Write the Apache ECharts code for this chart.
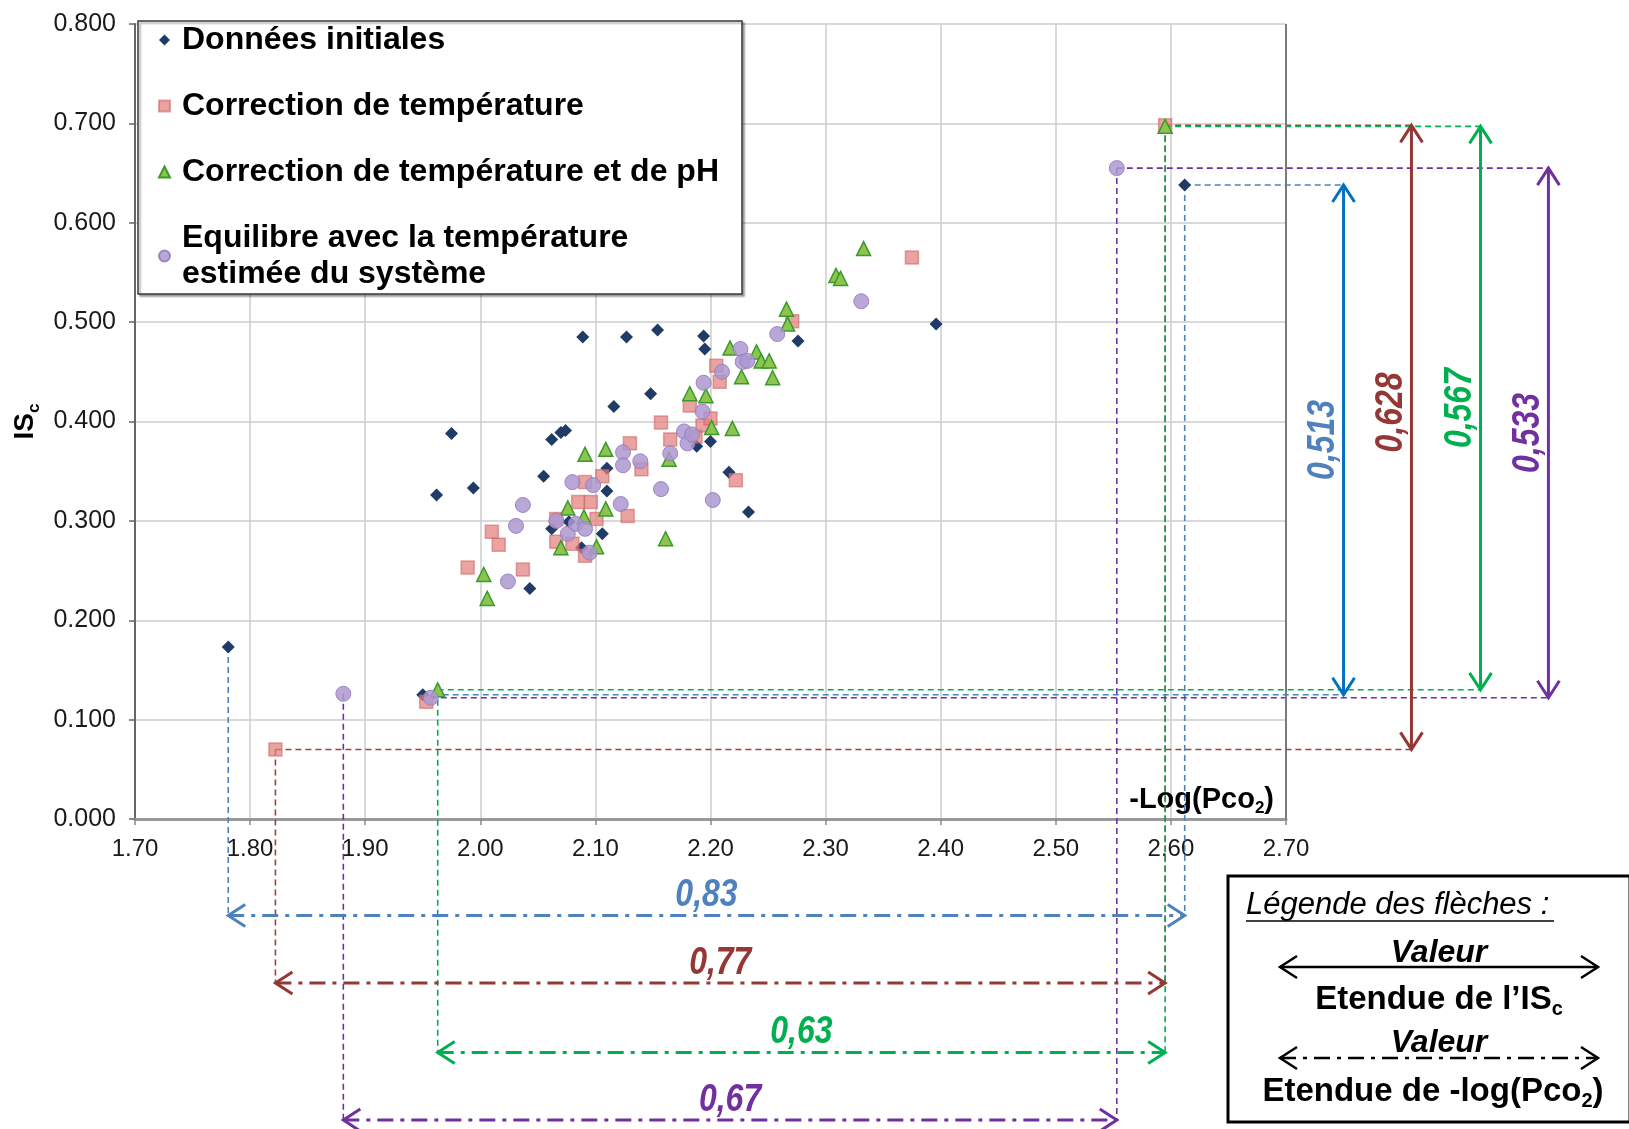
<!DOCTYPE html>
<html><head><meta charset="utf-8">
<script src="https://cdn.jsdelivr.net/npm/echarts@6/dist/echarts.min.js"></script>
<style>html,body{margin:0;padding:0;background:#fff}#c{width:1629px;height:1129px}</style>
</head><body><div id="c"></div>
<script>
// ---------- data (x = -Log(Pco2), y = ISc) ----------
const seriesNames = ['Données initiales', 'Correction de température', 'Correction de température et de pH', 'Equilibre avec la température estimée du système'];

const initiales = [
  [1.781,0.173],[1.950,0.125],[1.962,0.326],[1.975,0.388],[1.994,0.333],[2.043,0.232],
  [2.055,0.345],[2.062,0.382],[2.070,0.389],[2.074,0.391],[2.062,0.292],[2.077,0.299],
  [2.088,0.273],[2.089,0.485],[2.106,0.287],[2.110,0.353],[2.110,0.330],[2.116,0.415],
  [2.127,0.485],[2.148,0.428],[2.154,0.492],[2.188,0.375],[2.194,0.486],[2.195,0.473],
  [2.200,0.380],[2.216,0.349],[2.233,0.309],[2.276,0.481],[2.396,0.498],[2.612,0.638]
];
const corrTemp = [
  [1.822,0.070],[1.953,0.118],[1.989,0.253],[2.010,0.289],[2.016,0.276],[2.037,0.251],
  [2.066,0.302],[2.066,0.279],[2.080,0.277],[2.085,0.319],[2.091,0.339],[2.091,0.265],
  [2.096,0.319],[2.101,0.302],[2.106,0.345],[2.128,0.305],[2.130,0.378],[2.140,0.352],
  [2.157,0.399],[2.165,0.382],[2.182,0.416],[2.187,0.385],[2.193,0.396],[2.200,0.403],
  [2.205,0.456],[2.208,0.440],[2.222,0.341],[2.271,0.501],[2.375,0.565],[2.595,0.698]
];
const corrTempPh = [
  [1.963,0.130],[2.003,0.246],[2.006,0.222],[2.070,0.273],[2.076,0.313],[2.090,0.304],
  [2.091,0.367],[2.101,0.274],[2.109,0.372],[2.109,0.312],[2.161,0.282],[2.164,0.362],
  [2.182,0.428],[2.196,0.426],[2.201,0.394],[2.217,0.474],[2.219,0.393],[2.227,0.445],
  [2.240,0.470],[2.244,0.461],[2.251,0.461],[2.254,0.444],[2.266,0.513],[2.267,0.498],
  [2.309,0.547],[2.313,0.544],[2.333,0.574],[2.595,0.697]
];
const equilibre = [
  [1.881,0.126],[1.957,0.122],[2.024,0.239],[2.031,0.295],[2.037,0.316],[2.066,0.300],
  [2.076,0.287],[2.080,0.339],[2.083,0.297],[2.091,0.292],[2.095,0.268],[2.098,0.336],
  [2.122,0.317],[2.124,0.369],[2.124,0.356],[2.139,0.360],[2.157,0.332],[2.165,0.368],
  [2.177,0.390],[2.180,0.378],[2.184,0.387],[2.193,0.410],[2.194,0.439],[2.202,0.321],
  [2.210,0.450],[2.226,0.473],[2.228,0.460],[2.232,0.461],[2.258,0.488],[2.331,0.521],
  [2.553,0.655]
];

// range annotations (labels as printed in the figure)
const isRangeLabels  = ['0,513', '0,628', '0,567', '0,533'];
const logRangeLabels = ['0,83', '0,77', '0,63', '0,67'];
// positions of the range arrows, in axis units
const arrowColumnsX = [2.750, 2.809, 2.869, 2.928];
const arrowRowsY    = [-0.097, -0.165, -0.235, -0.303];

const FONT = 'Liberation Sans, Arial, sans-serif';
const arrowColors = ['#0070C0', '#953735', '#00B050', '#7030A0'];
const dashColors  = ['#4F81BD', '#A0403C', '#00B050', '#7030A0'];
const labelColors = ['#4F81BD', '#953735', '#00B050', '#7030A0'];
const hArrowColors = ['#4F81BD', '#953735', '#00B050', '#7030A0'];

const chart = echarts.init(document.getElementById('c'));

const subRich = (size) => ({
  a: {fontFamily: FONT, fontWeight: 'bold', fontSize: size, color: '#000', lineHeight: size + 6, verticalAlign: 'middle'},
  s: {fontFamily: FONT, fontWeight: 'bold', fontSize: Math.round(size * 0.6), color: '#000', lineHeight: Math.round(size * 0.6), verticalAlign: 'bottom'}
});

chart.setOption({
  animation: false,
  backgroundColor: '#fff',
  grid: {left: 135, right: 343, top: 24, bottom: 310},
  legend: {
    orient: 'vertical', left: 138, top: 21,
    padding: [1, 23, 2, 20],
    itemGap: 30, itemWidth: 11, itemHeight: 11,
    selectedMode: false,
    backgroundColor: '#fff', borderColor: '#3a3a3a', borderWidth: 1.5,
    shadowColor: 'rgba(0,0,0,0.35)', shadowBlur: 2, shadowOffsetX: 2, shadowOffsetY: 2,
    textStyle: {fontFamily: FONT, fontWeight: 'bold', fontSize: 32, color: '#000', lineHeight: 36, padding: [0, 0, 0, 7]},
    formatter: (n) => n === seriesNames[3] ? 'Equilibre avec la température\nestimée du système' : n,
    data: seriesNames
  },
  xAxis: {
    type: 'value', min: 1.7, max: 2.7, interval: 0.1,
    name: '{a|-Log(Pco}{s|2}{a|)}', nameLocation: 'end', nameGap: -12,
    nameTextStyle: {align: 'right', verticalAlign: 'bottom', padding: [0, 0, 2, 0], rich: subRich(29)},
    axisLine: {show: true, onZero: false, lineStyle: {color: '#999', width: 3}},
    axisTick: {show: true, length: 6, lineStyle: {color: '#888', width: 1.5}},
    axisLabel: {fontFamily: FONT, fontSize: 24, color: '#1a1a1a', margin: 18, formatter: v => v.toFixed(2)},
    splitLine: {show: true, lineStyle: {color: '#cccccc', width: 1.5}}
  },
  yAxis: {
    type: 'value', min: 0, max: 0.8, interval: 0.1,
    name: '{a|IS}{s|c}', nameLocation: 'middle', nameRotate: 90, nameGap: 92,
    nameTextStyle: {rich: subRich(28)},
    axisLine: {show: true, lineStyle: {color: '#666', width: 2}},
    axisTick: {show: true, length: 6, lineStyle: {color: '#666', width: 1.5}},
    axisLabel: {fontFamily: FONT, fontSize: 25, color: '#1a1a1a', margin: 19, formatter: v => v.toFixed(3)},
    splitLine: {show: true, lineStyle: {color: '#cccccc', width: 1.5}}
  },
  series: [
    {name: seriesNames[0], type: 'scatter', symbol: 'diamond', symbolSize: 13, data: initiales,
     itemStyle: {color: '#1F3B66', opacity: 1}},
    {name: seriesNames[1], type: 'scatter', symbol: 'rect', symbolSize: 13, data: corrTemp,
     itemStyle: {color: 'rgba(226,128,124,0.72)', borderColor: 'rgba(205,95,92,0.55)', borderWidth: 1.5, opacity: 1}},
    {name: seriesNames[2], type: 'scatter', symbol: 'triangle', symbolSize: 14, data: corrTempPh,
     itemStyle: {color: '#8DC450', borderColor: '#3A9A2A', borderWidth: 1.5, opacity: 1}},
    {name: seriesNames[3], type: 'scatter', symbol: 'circle', symbolSize: 15, data: equilibre,
     itemStyle: {color: 'rgba(172,152,208,0.85)', borderColor: 'rgba(150,125,190,0.9)', borderWidth: 1, opacity: 1}}
  ]
});

// ---------- annotations drawn from the data through the axes ----------
function px(x, y) { return chart.convertToPixel({gridIndex: 0}, [x, y]); }
function extent(arr) {
  let e = {minX: arr[0], maxX: arr[0], minY: arr[0], maxY: arr[0]};
  arr.forEach(p => {
    if (p[0] < e.minX[0]) e.minX = p;
    if (p[0] > e.maxX[0]) e.maxX = p;
    if (p[1] < e.minY[1]) e.minY = p;
    if (p[1] > e.maxY[1]) e.maxY = p;
  });
  return e;
}
const groups = [initiales, corrTemp, corrTempPh, equilibre];
const G = [];
const line = (a, b, stroke, w, dash, z) => ({type: 'line', z: z, silent: true,
  shape: {x1: a[0], y1: a[1], x2: b[0], y2: b[1]}, style: {stroke: stroke, lineWidth: w, lineDash: dash || null}});
const chevron = (tip, dir, stroke, w, z) => {
  const L = 17, H = 11;
  let pts;
  if (dir === 'up') pts = [[tip[0] - H, tip[1] + L], tip, [tip[0] + H, tip[1] + L]];
  if (dir === 'down') pts = [[tip[0] - H, tip[1] - L], tip, [tip[0] + H, tip[1] - L]];
  if (dir === 'left') pts = [[tip[0] + L, tip[1] - H], tip, [tip[0] + L, tip[1] + H]];
  if (dir === 'right') pts = [[tip[0] - L, tip[1] - H], tip, [tip[0] - L, tip[1] + H]];
  return {type: 'polyline', z: z, silent: true, shape: {points: pts}, style: {stroke: stroke, lineWidth: w, fill: null}};
};
const valText = (pos, text, color, rot) => ({type: 'text', z: 12, silent: true, x: pos[0], y: pos[1],
  rotation: rot || 0, scaleX: 0.82,
  style: {text: text, fill: color, font: 'italic bold 39px ' + FONT, align: 'center', verticalAlign: 'middle'}});

groups.forEach((data, i) => {
  const e = extent(data);
  const col = arrowColumnsX[i], row = arrowRowsY[i];
  const dash = [6, 4];
  // guide lines (dashed)
  G.push(line(px(e.minX[0], e.minX[1]), px(e.minX[0], row), dashColors[i], 1.6, dash, 1));
  G.push(line(px(e.maxX[0], e.maxX[1]), px(e.maxX[0], row), dashColors[i], 1.6, dash, 1));
  G.push(line(px(e.maxY[0], e.maxY[1]), px(col, e.maxY[1]), dashColors[i], 1.6, dash, 1));
  G.push(line(px(e.minY[0], e.minY[1]), px(col, e.minY[1]), dashColors[i], 1.6, dash, 1));
  // vertical range arrow (ISc)
  const top = px(col, e.maxY[1]), bot = px(col, e.minY[1]);
  G.push(line(top, bot, arrowColors[i], 3, null, 10));
  G.push(chevron(top, 'up', arrowColors[i], 3, 10));
  G.push(chevron(bot, 'down', arrowColors[i], 3, 10));
  const midY = (top[1] + bot[1]) / 2 - (i === 1 ? 25 : 0);
  G.push(valText([top[0] - 20, midY], isRangeLabels[i], labelColors[i], Math.PI / 2));
  // horizontal range arrow (-log Pco2)
  const l = px(e.minX[0], row), r = px(e.maxX[0], row);
  G.push(line(l, r, hArrowColors[i], 3, [16, 7, 4, 7], 10));
  G.push(chevron(l, 'left', hArrowColors[i], 3, 10));
  G.push(chevron(r, 'right', hArrowColors[i], 3, 10));
  G.push(valText([(l[0] + r[0]) / 2, l[1] - 20], logRangeLabels[i], labelColors[i], 0));
});
// right frame edge of plot area
G.push(line(px(2.7, 0), px(2.7, 0.8), '#7a7a7a', 2, null, 3));

// ---------- legend of arrows (bottom right) ----------
const bx = 1228, by = 876;
G.push({type: 'rect', z: 20, silent: true, shape: {x: bx, y: by, width: 402, height: 246},
  style: {fill: '#fff', stroke: '#000', lineWidth: 3}});
G.push({type: 'text', z: 21, silent: true, x: bx + 18, y: by + 29,
  style: {text: 'Légende des flèches :', font: 'italic 31px ' + FONT, fill: '#000', align: 'left', verticalAlign: 'middle'}});
G.push({type: 'line', z: 21, silent: true, shape: {x1: bx + 18, y1: by + 45, x2: bx + 326, y2: by + 45}, style: {stroke: '#000', lineWidth: 1.5}});
const lgL = bx + 52, lgR = bx + 370, lgMid = (bx + 52 + bx + 370) / 2;
G.push(line([lgL, by + 91], [lgR, by + 91], '#000', 2.5, null, 21));
G.push(chevron([lgL, by + 91], 'left', '#000', 2.5, 21));
G.push(chevron([lgR, by + 91], 'right', '#000', 2.5, 21));
G.push({type: 'text', z: 22, silent: true, x: lgMid, y: by + 77,
  style: {text: 'Valeur', font: 'italic bold 32px ' + FONT, fill: '#000', align: 'center', verticalAlign: 'middle'}});
G.push({type: 'text', z: 22, silent: true, x: lgMid, y: by + 124,
  style: {text: '{a|Etendue de l’IS}{s|c}', rich: subRich(33), align: 'center', verticalAlign: 'middle'}});
G.push(line([lgL, by + 182], [lgR, by + 182], '#000', 2.5, [16, 7, 4, 7], 21));
G.push(chevron([lgL, by + 182], 'left', '#000', 2.5, 21));
G.push(chevron([lgR, by + 182], 'right', '#000', 2.5, 21));
G.push({type: 'text', z: 22, silent: true, x: lgMid, y: by + 167,
  style: {text: 'Valeur', font: 'italic bold 32px ' + FONT, fill: '#000', align: 'center', verticalAlign: 'middle'}});
G.push({type: 'text', z: 22, silent: true, x: lgMid - 6, y: by + 216,
  style: {text: '{a|Etendue de -log(Pco}{s|2}{a|)}', rich: subRich(33), align: 'center', verticalAlign: 'middle'}});

chart.setOption({graphic: {elements: G}});
</script>
</body></html>
